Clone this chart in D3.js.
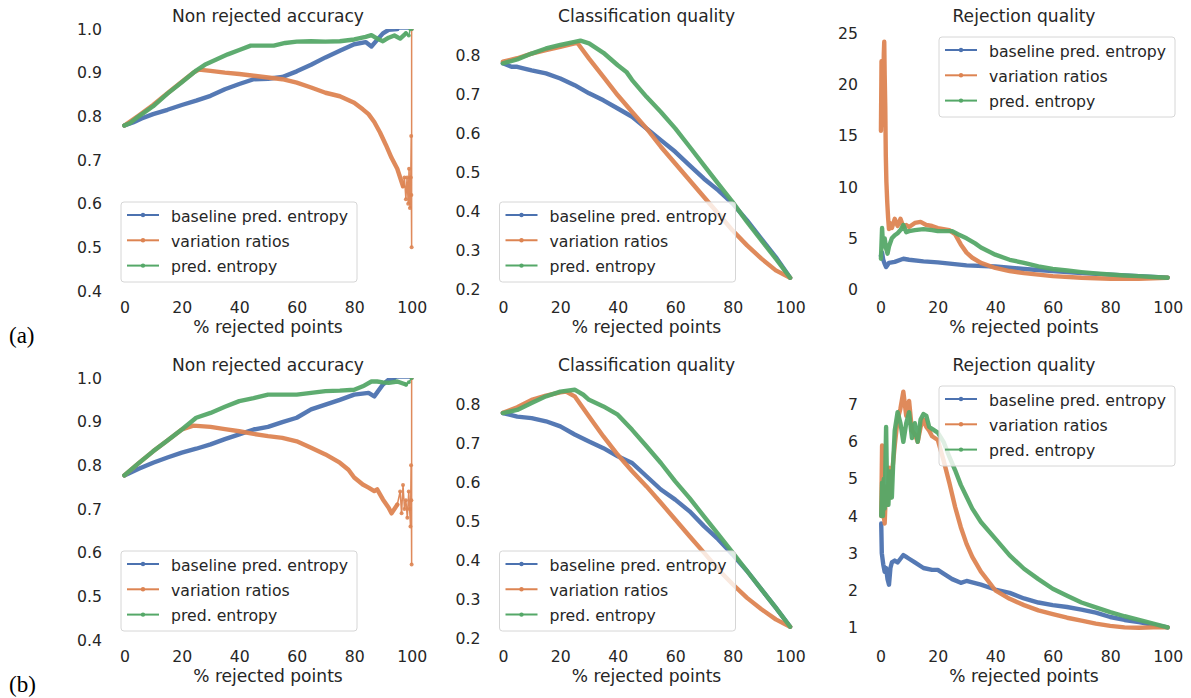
<!DOCTYPE html>
<html>
<head>
<meta charset="utf-8">
<script src="https://cdn.jsdelivr.net/npm/d3@7"></script>
<style>
  html, body { margin: 0; padding: 0; background: #ffffff; }
  svg { display: block; }
</style>
</head>
<body>
<svg id="chart" width="1191" height="698"></svg>
<script>
// ---------------- DATA ----------------
const seriesNames = ["baseline pred. entropy", "variation ratios", "pred. entropy"];
const xTicks = [0, 20, 40, 60, 80, 100];
const titles = ["Non rejected accuracy", "Classification quality", "Rejection quality"];
const xLabel = "% rejected points";
const rowLabels = ["(a)", "(b)"];

const yTicksAcc = [0.4, 0.5, 0.6, 0.7, 0.8, 0.9, 1.0];
const yTicksCls = [0.2, 0.3, 0.4, 0.5, 0.6, 0.7, 0.8];
const yTicksRejA = [0, 5, 10, 15, 20, 25];
const yTicksRejB = [1, 2, 3, 4, 5, 6, 7];

// Row (a) — Non rejected accuracy
const a1Blue = [[0,0.779],[3,0.786],[6,0.795],[10,0.805],[15,0.815],[20,0.826],[25,0.836],[30,0.847],[35,0.862],[40,0.874],[45,0.885],[50,0.886],[55,0.89],[60,0.903],[65,0.918],[70,0.935],[75,0.95],[80,0.965],[84,0.97],[86,0.96],[88,0.975],[90,0.99],[92,0.998],[95,1.0]];
const a1BlueTail = [[95,1.0],[100,1.0]];
const a1Var = [[0,0.779],[5,0.802],[10,0.826],[15,0.853],[20,0.879],[24,0.9],[26,0.907],[30,0.904],[35,0.9],[40,0.897],[45,0.893],[50,0.889],[55,0.885],[60,0.877],[65,0.866],[70,0.854],[75,0.846],[80,0.831],[83,0.816],[85,0.805],[87,0.787],[89,0.763],[91,0.735],[93,0.705],[95,0.68],[97,0.64]];
const a1VarTail = [[97,0.64],[97.5,0.66],[98,0.61],[98.4,0.66],[98.8,0.6],[99.1,0.68],[99.4,0.59],[99.7,0.66],[99.85,0.755],[99.9,0.62],[100,0.5],[100,1.0]];
const a1Ent = [[0,0.779],[2,0.785],[5,0.8],[10,0.823],[15,0.852],[20,0.878],[25,0.905],[28,0.918],[32,0.93],[36,0.942],[40,0.952],[44,0.962],[48,0.962],[52,0.962],[56,0.968],[60,0.971],[65,0.972],[70,0.971],[75,0.972],[80,0.976],[84,0.982],[86,0.986],[88,0.978],[90,0.972],[92,0.98],[94,0.985],[96,0.978],[98,0.99]];
const a1EntTail = [[98,0.99],[99,0.985],[99.5,1.0],[100,1.0]];

// Row (a) — Classification quality
const a2Blue = [[0,0.779],[3,0.77],[5,0.77],[10,0.761],[15,0.753],[20,0.74],[25,0.723],[30,0.702],[35,0.684],[40,0.663],[45,0.642],[50,0.612],[55,0.582],[60,0.552],[65,0.517],[70,0.483],[75,0.453],[80,0.419],[85,0.376],[90,0.329],[95,0.282],[100,0.229]];
const a2Var = [[0,0.783],[5,0.792],[10,0.804],[15,0.813],[20,0.821],[25,0.83],[26,0.831],[27,0.821],[30,0.791],[35,0.744],[40,0.697],[45,0.654],[50,0.612],[55,0.565],[60,0.522],[65,0.479],[70,0.436],[75,0.393],[80,0.35],[85,0.312],[90,0.278],[95,0.248],[100,0.229]];
const a2Ent = [[0,0.779],[5,0.789],[10,0.804],[15,0.817],[20,0.826],[25,0.834],[27,0.837],[30,0.83],[35,0.806],[40,0.774],[43,0.757],[45,0.736],[50,0.693],[55,0.654],[60,0.612],[65,0.565],[70,0.517],[75,0.47],[80,0.423],[85,0.372],[90,0.325],[95,0.278],[100,0.229]];

// Row (a) — Rejection quality
const a3Blue = [[0.2,3.3],[0.6,3.6],[1,2.9],[1.5,2.5],[2,2.2],[2.5,2.4],[3,2.6],[5,2.7],[8,3.0],[10,2.9],[15,2.75],[20,2.65],[25,2.5],[30,2.35],[40,2.25],[50,2.0],[60,1.8],[70,1.6],[80,1.45],[90,1.3],[100,1.15]];
const a3Var = [[0.2,15.5],[0.4,22.3],[0.6,16],[0.8,20.5],[1.0,18.5],[1.2,23],[1.35,24.2],[1.5,21],[1.7,18],[1.9,13],[2.1,10.5],[2.4,8.5],[2.7,7],[3.0,5.9],[3.3,6.5],[4,6.0],[5,6.9],[6,6.2],[7,6.9],[8,6.1],[9,6.3],[10,6.1],[12,6.5],[14,6.6],[16,6.3],[18,6.2],[20,6.0],[22,5.9],[24,5.8],[26,5.4],[28,4.4],[30,3.6],[32,3.1],[35,2.6],[40,2.1],[45,1.8],[50,1.6],[55,1.45],[60,1.3],[70,1.14],[80,1.05],[90,1.05],[100,1.15]];
const a3Ent = [[0.2,3.0],[0.4,4.5],[0.6,6.0],[0.8,5.0],[1.0,4.2],[1.5,5.0],[2,4.0],[2.5,3.5],[3,4.2],[4,5.0],[5,5.3],[6,5.5],[7,5.8],[8,6.3],[9,5.6],[10,5.7],[12,5.8],[15,5.9],[18,5.8],[20,5.7],[22,5.7],[25,5.7],[27,5.4],[30,5.0],[33,4.5],[35,4.1],[40,3.4],[45,2.9],[50,2.6],[55,2.25],[60,2.0],[65,1.85],[70,1.7],[75,1.57],[80,1.46],[85,1.37],[90,1.3],[95,1.22],[100,1.15]];

// Row (b) — Non rejected accuracy
const b1Blue = [[0,0.777],[5,0.792],[10,0.806],[15,0.818],[20,0.829],[25,0.838],[30,0.848],[35,0.86],[40,0.871],[45,0.882],[50,0.888],[55,0.899],[60,0.909],[65,0.928],[70,0.939],[75,0.95],[80,0.962],[85,0.966],[87,0.958],[90,0.985],[92,0.996],[94,1.0]];
const b1BlueTail = [[94,1.0],[100,1.0]];
const b1Var = [[0,0.777],[5,0.805],[10,0.832],[15,0.857],[20,0.882],[24,0.891],[30,0.888],[35,0.883],[40,0.878],[45,0.872],[50,0.867],[55,0.863],[60,0.855],[65,0.84],[70,0.825],[75,0.806],[78,0.79],[80,0.772],[83,0.756],[85,0.749],[87,0.741],[88,0.745],[90,0.722],[92,0.703],[93,0.69],[95,0.71]];
const b1VarTail = [[95,0.71],[96,0.74],[96.5,0.69],[97,0.755],[97.5,0.7],[98,0.72],[98.5,0.68],[99,0.74],[99.3,0.7],[99.6,0.66],[99.8,0.8],[99.9,0.72],[100,0.573],[100,1.0]];
const b1Ent = [[0,0.777],[5,0.805],[10,0.832],[15,0.857],[20,0.882],[25,0.909],[30,0.92],[35,0.934],[40,0.947],[45,0.954],[50,0.962],[55,0.962],[60,0.962],[65,0.966],[70,0.97],[75,0.971],[80,0.973],[83,0.981],[86,0.992],[88,0.992],[90,0.99],[92,0.989],[95,0.992],[98,0.985]];
const b1EntTail = [[98,0.985],[99,0.99],[100,1.0]];

// Row (b) — Classification quality
const b2Blue = [[0,0.777],[5,0.768],[10,0.764],[15,0.756],[20,0.743],[25,0.722],[30,0.704],[35,0.687],[40,0.666],[45,0.649],[50,0.615],[55,0.581],[60,0.555],[65,0.525],[70,0.487],[75,0.453],[80,0.414],[85,0.372],[90,0.325],[95,0.278],[100,0.229]];
const b2Var = [[0,0.778],[5,0.792],[10,0.811],[15,0.822],[20,0.83],[22,0.832],[25,0.82],[30,0.768],[35,0.717],[40,0.67],[45,0.628],[50,0.589],[55,0.547],[60,0.504],[65,0.461],[70,0.419],[75,0.376],[80,0.338],[85,0.303],[90,0.274],[95,0.248],[100,0.229]];
const b2Ent = [[0,0.777],[5,0.785],[10,0.803],[15,0.82],[20,0.832],[25,0.837],[28,0.824],[30,0.811],[35,0.794],[40,0.773],[45,0.734],[50,0.692],[55,0.649],[60,0.602],[65,0.559],[70,0.512],[75,0.466],[80,0.419],[85,0.372],[90,0.325],[95,0.278],[100,0.229]];

// Row (b) — Rejection quality
const b3Blue = [[0.3,3.8],[0.5,3.0],[1,2.7],[1.5,2.5],[2,2.6],[2.5,2.3],[3,2.15],[3.5,2.6],[4,2.75],[5,2.8],[6,2.75],[7,2.85],[8,2.95],[9,2.9],[10,2.85],[12,2.75],[15,2.6],[18,2.55],[20,2.55],[22,2.45],[25,2.3],[28,2.2],[30,2.25],[35,2.15],[40,2.02],[45,1.93],[50,1.78],[55,1.67],[60,1.6],[65,1.55],[70,1.48],[75,1.4],[80,1.28],[85,1.2],[90,1.14],[95,1.07],[100,1.0]];
const b3Var = [[0.3,4.0],[0.6,5.9],[0.9,4.5],[1.2,4.0],[1.5,3.8],[2,4.8],[2.5,4.3],[3,5.3],[3.5,4.5],[4,5.1],[5,5.9],[6,6.6],[7,6.9],[8,7.35],[9,6.7],[10,7.1],[11,6.3],[12,6.2],[13,6.0],[14,6.4],[15,6.6],[16,6.4],[17,6.3],[18,6.15],[20,6.05],[22,5.5],[24,4.9],[26,4.25],[28,3.7],[30,3.25],[32,2.9],[35,2.5],[40,2.0],[45,1.77],[50,1.6],[55,1.46],[60,1.36],[65,1.26],[70,1.18],[75,1.1],[80,1.04],[85,1.0],[90,0.99],[95,1.0],[100,1.0]];
const b3Ent = [[0.3,4.0],[0.6,4.9],[0.9,4.0],[1.2,5.0],[1.5,4.2],[2,6.4],[2.3,4.8],[2.8,4.3],[3.3,5.2],[4,4.5],[4.5,5.5],[5,6.3],[6,6.8],[7,6.5],[8,6.0],[9,6.5],[10,6.8],[11,6.1],[12,6.5],[13,6.0],[14,6.6],[15,6.75],[16,6.7],[17,6.4],[18,6.35],[20,6.25],[22,6.0],[24,5.6],[26,5.24],[28,4.84],[30,4.52],[32,4.2],[35,3.84],[40,3.39],[45,2.94],[50,2.58],[55,2.3],[60,2.04],[65,1.85],[70,1.67],[75,1.54],[80,1.41],[85,1.3],[90,1.2],[95,1.1],[100,1.0]];

// ---------------- LAYOUT / STYLE ----------------
const colors = ["#4c72b0", "#dd8452", "#55a868"];
const textColor = "#262626";
const colLeft = [110, 488.5, 866];
const rowTop = [29, 378];
const plotW = 316, plotH = 262;
const tickFont = 15.7, titleFont = 17.1;

const panels = [
  {row:0, col:0, yDomain:[0.4,1.0], yTicks:yTicksAcc, fmt:d3.format(".1f"), data:[a1Blue,a1Var,a1Ent], tails:[a1BlueTail,a1VarTail,a1EntTail], legend:"ll"},
  {row:0, col:1, yDomain:[0.195,0.867], yTicks:yTicksCls, fmt:d3.format(".1f"), data:[a2Blue,a2Var,a2Ent], tails:[null,null,null], legend:"ll"},
  {row:0, col:2, yDomain:[-0.15,25.45], yTicks:yTicksRejA, fmt:d3.format("d"), data:[a3Blue,a3Var,a3Ent], tails:[null,null,null], legend:"ur"},
  {row:1, col:0, yDomain:[0.4,1.0], yTicks:yTicksAcc, fmt:d3.format(".1f"), data:[b1Blue,b1Var,b1Ent], tails:[b1BlueTail,b1VarTail,b1EntTail], legend:"ll"},
  {row:1, col:1, yDomain:[0.195,0.867], yTicks:yTicksCls, fmt:d3.format(".1f"), data:[b2Blue,b2Var,b2Ent], tails:[null,null,null], legend:"ll"},
  {row:1, col:2, yDomain:[0.66,7.72], yTicks:yTicksRejB, fmt:d3.format("d"), data:[b3Blue,b3Var,b3Ent], tails:[null,null,null], legend:"ur"}
];

const svg = d3.select("#chart");
svg.append("rect").attr("width",1191).attr("height",698).attr("fill","#fff");
const defs = svg.append("defs");

panels.forEach((p, i) => {
  const left = colLeft[p.col], top = rowTop[p.row];
  const x = d3.scaleLinear().domain([-5,105]).range([0, plotW]);
  const y = d3.scaleLinear().domain(p.yDomain).range([plotH, 0]);
  const g = svg.append("g").attr("transform", `translate(${left},${top})`);

  defs.append("clipPath").attr("id", "clip"+i)
    .append("rect").attr("x",0).attr("y",0).attr("width",plotW).attr("height",plotH);

  // axes
  const xAxis = d3.axisBottom(x).tickValues(xTicks).tickSize(0).tickPadding(11).tickFormat(d3.format("d"));
  const gx = g.append("g").attr("transform", `translate(0,${plotH})`).call(xAxis);
  const yAxis = d3.axisLeft(y).tickValues(p.yTicks).tickSize(0).tickPadding(8).tickFormat(p.fmt);
  const gy = g.append("g").call(yAxis);
  [gx, gy].forEach(a => {
    a.select(".domain").remove();
    a.selectAll("text").attr("fill", textColor).style("font-family","DejaVu Sans").style("font-size", tickFont+"px");
  });

  // title and x label
  g.append("text").attr("x", x(50)).attr("y", -7).attr("text-anchor","middle")
    .attr("fill", textColor).style("font-family","DejaVu Sans").style("font-size", titleFont+"px")
    .text(titles[p.col]);
  g.append("text").attr("x", x(50)).attr("y", plotH + 42).attr("text-anchor","middle")
    .attr("fill", textColor).style("font-family","DejaVu Sans").style("font-size", titleFont+"px")
    .text(xLabel);

  // lines
  const line = d3.line().x(d => x(d[0])).y(d => y(d[1]));
  const plot = g.append("g").attr("clip-path", `url(#clip${i})`);
  p.data.forEach((s, k) => {
    plot.append("path").datum(s).attr("d", line)
      .attr("fill","none").attr("stroke", colors[k]).attr("stroke-width", 4.4)
      .attr("stroke-linejoin","round").attr("stroke-linecap","round").attr("opacity", 0.95);
    const t = p.tails[k];
    if (t) {
      plot.append("path").datum(t).attr("d", line)
        .attr("fill","none").attr("stroke", colors[k]).attr("stroke-width", 1.5).attr("opacity", 0.95);
      plot.selectAll(null).data(t).enter().append("circle")
        .attr("cx", d => x(d[0])).attr("cy", d => y(d[1])).attr("r", 2)
        .attr("fill", colors[k]).attr("opacity", 0.9);
    }
  });

  // legend
  const lw = 236, lh = 80;
  const lx = p.legend === "ll" ? 11 : plotW - 7 - lw;
  const ly = p.legend === "ll" ? plotH - 9 - lh : 8;
  const lg = g.append("g").attr("transform", `translate(${lx},${ly})`);
  lg.append("rect").attr("width", lw).attr("height", lh).attr("rx", 3)
    .attr("fill", "#ffffff").attr("fill-opacity", 0.8).attr("stroke", "#d6d6d6").attr("stroke-width", 1);
  const rowsY = [13, 38.3, 63.6];
  seriesNames.forEach((name, k) => {
    lg.append("line").attr("x1", 6).attr("x2", 38).attr("y1", rowsY[k]).attr("y2", rowsY[k])
      .attr("stroke", colors[k]).attr("stroke-width", 2);
    lg.append("circle").attr("cx", 22).attr("cy", rowsY[k]).attr("r", 2.2).attr("fill", colors[k]);
    lg.append("text").attr("x", 50).attr("y", rowsY[k] + 6.5)
      .attr("fill", textColor).style("font-family","DejaVu Sans").style("font-size", tickFont+"px")
      .text(name);
  });
});

// row labels
svg.selectAll(".rowlabel").data(rowLabels).enter().append("text")
  .attr("class","rowlabel")
  .attr("x", 9).attr("y", (d, i) => i === 0 ? 343 : 692)
  .attr("fill", "#000").style("font-family","Liberation Serif").style("font-size","23px")
  .text(d => d);
</script>
</body>
</html>
